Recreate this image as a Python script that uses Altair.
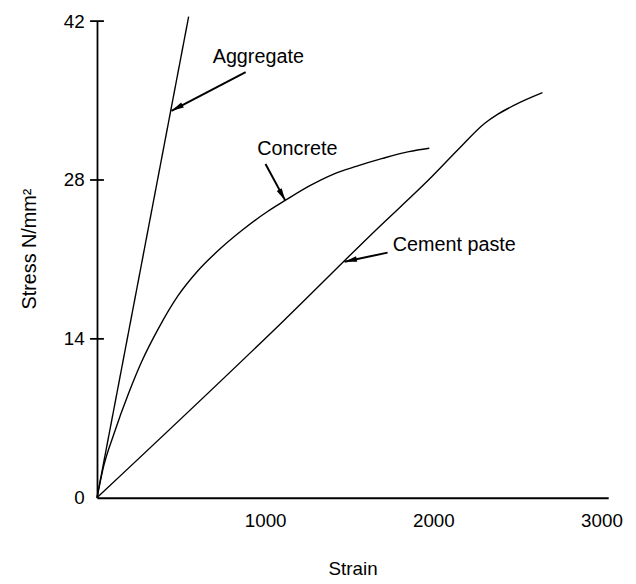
import altair as alt
import pandas as pd

# ---- data ----
aggregate_strain = [0, 545]
aggregate_stress = [0, 42.4]

concrete_strain = [0, 40, 100, 188, 266, 365, 482, 600, 737, 874, 1012, 1119,
                   1266, 1404, 1541, 1698, 1855, 1976]
concrete_stress = [0, 2.8, 5.6, 9.2, 12.0, 14.9, 17.8, 20.0, 22.0, 23.7, 25.2,
                   26.2, 27.5, 28.5, 29.2, 29.9, 30.5, 30.8]

cement_strain = [0, 1110, 1659, 1992, 2149, 2306, 2384, 2482, 2649]
cement_stress = [0, 15.6, 23.6, 28.3, 30.7, 33.0, 33.8, 34.6, 35.7]

label_text = ["Aggregate", "Concrete", "Cement paste"]
label_strain = [688, 953, 1759]
label_stress = [38.3, 30.2, 21.7]
arrow_tail_strain = [884, 1002, 1728]
arrow_tail_stress = [37.5, 29.4, 21.6]
arrow_tip_strain = [443, 1119, 1472]
arrow_tip_stress = [34.1, 26.2, 20.8]
arrow_angle = [242.5, 151.3, 257.9]

x_tick_labels = [1000, 2000, 3000]
y_tick_labels = [0, 14, 28, 42]
y_tick_marks = [14, 28, 42]

# ---- tables ----
rows = []
for name, xs, ys in [("Aggregate", aggregate_strain, aggregate_stress),
                     ("Concrete", concrete_strain, concrete_stress),
                     ("Cement paste", cement_strain, cement_stress)]:
    for i, (x, y) in enumerate(zip(xs, ys)):
        rows.append({"series": name, "strain": x, "stress": y, "order": i})
curves = pd.DataFrame(rows)

notes = pd.DataFrame({
    "label": label_text,
    "lx": label_strain, "ly": label_stress,
    "tx": arrow_tail_strain, "ty": arrow_tail_stress,
    "hx": arrow_tip_strain, "hy": arrow_tip_stress,
    "angle": arrow_angle,
})
ticks = pd.DataFrame({"v": y_tick_marks})

FONT = "Liberation Sans"

xscale = alt.Scale(domain=[0, 3040], nice=False, zero=False)
yscale = alt.Scale(domain=[0, 42], nice=False, zero=False)

xaxis = alt.Axis(values=x_tick_labels, format="d", ticks=False, grid=False,
                 domainColor="black", domainWidth=2, labelFontSize=19, labelFont=FONT,
                 labelColor="black", labelPadding=14, title="Strain", titleFont=FONT,
                 titleFontSize=19, titleFontWeight="normal", titleColor="black",
                 titlePadding=30, labelFlush=False)
yaxis = alt.Axis(values=y_tick_labels, format="d", ticks=False, grid=False,
                 domainColor="black", domainWidth=1.8, labelFontSize=19, labelFont=FONT,
                 labelColor="black", labelPadding=13, title="Stress N/mm²", titleFont=FONT,
                 titleFontSize=20, titleFontWeight="normal", titleColor="black",
                 titlePadding=24, titleY=230, labelFlush=False)

lines = alt.Chart(curves).mark_line(color="black", strokeWidth=1.4,
                                    interpolate="monotone").encode(
    x=alt.X("strain:Q", scale=xscale, axis=xaxis),
    y=alt.Y("stress:Q", scale=yscale, axis=yaxis),
    detail="series:N",
    order="order:Q",
)

shafts = alt.Chart(notes).mark_rule(color="black", strokeWidth=2).encode(
    x=alt.X("tx:Q", scale=xscale), y=alt.Y("ty:Q", scale=yscale),
    x2="hx:Q", y2="hy:Q",
)

heads = alt.Chart(notes).mark_point(
    shape="M0,0L0.5,2.2L-0.5,2.2Z", filled=True, color="black", opacity=1,
    size=130, strokeWidth=0,
).encode(
    x=alt.X("hx:Q", scale=xscale), y=alt.Y("hy:Q", scale=yscale),
    angle=alt.Angle("angle:Q", scale=None),
)

texts = alt.Chart(notes).mark_text(align="left", baseline="alphabetic", fontSize=20,
                                   font=FONT, color="black").encode(
    x=alt.X("lx:Q", scale=xscale), y=alt.Y("ly:Q", scale=yscale),
    text="label:N",
)

yticks = alt.Chart(ticks).mark_tick(orient="horizontal", color="black", thickness=1.8,
                                    size=14, opacity=1).encode(
    y=alt.Y("v:Q", scale=yscale),
    x=alt.value(0),
)

chart = alt.layer(lines, shafts, heads, texts, yticks).properties(
    width=517, height=482,
    padding={"left": 90, "top": 10, "right": 20, "bottom": 84},
    autosize=alt.AutoSizeParams(type="none"),
    background="white",
).configure_view(strokeWidth=0)

chart.save("out.html", embed_options={"renderer": "svg", "actions": False})
